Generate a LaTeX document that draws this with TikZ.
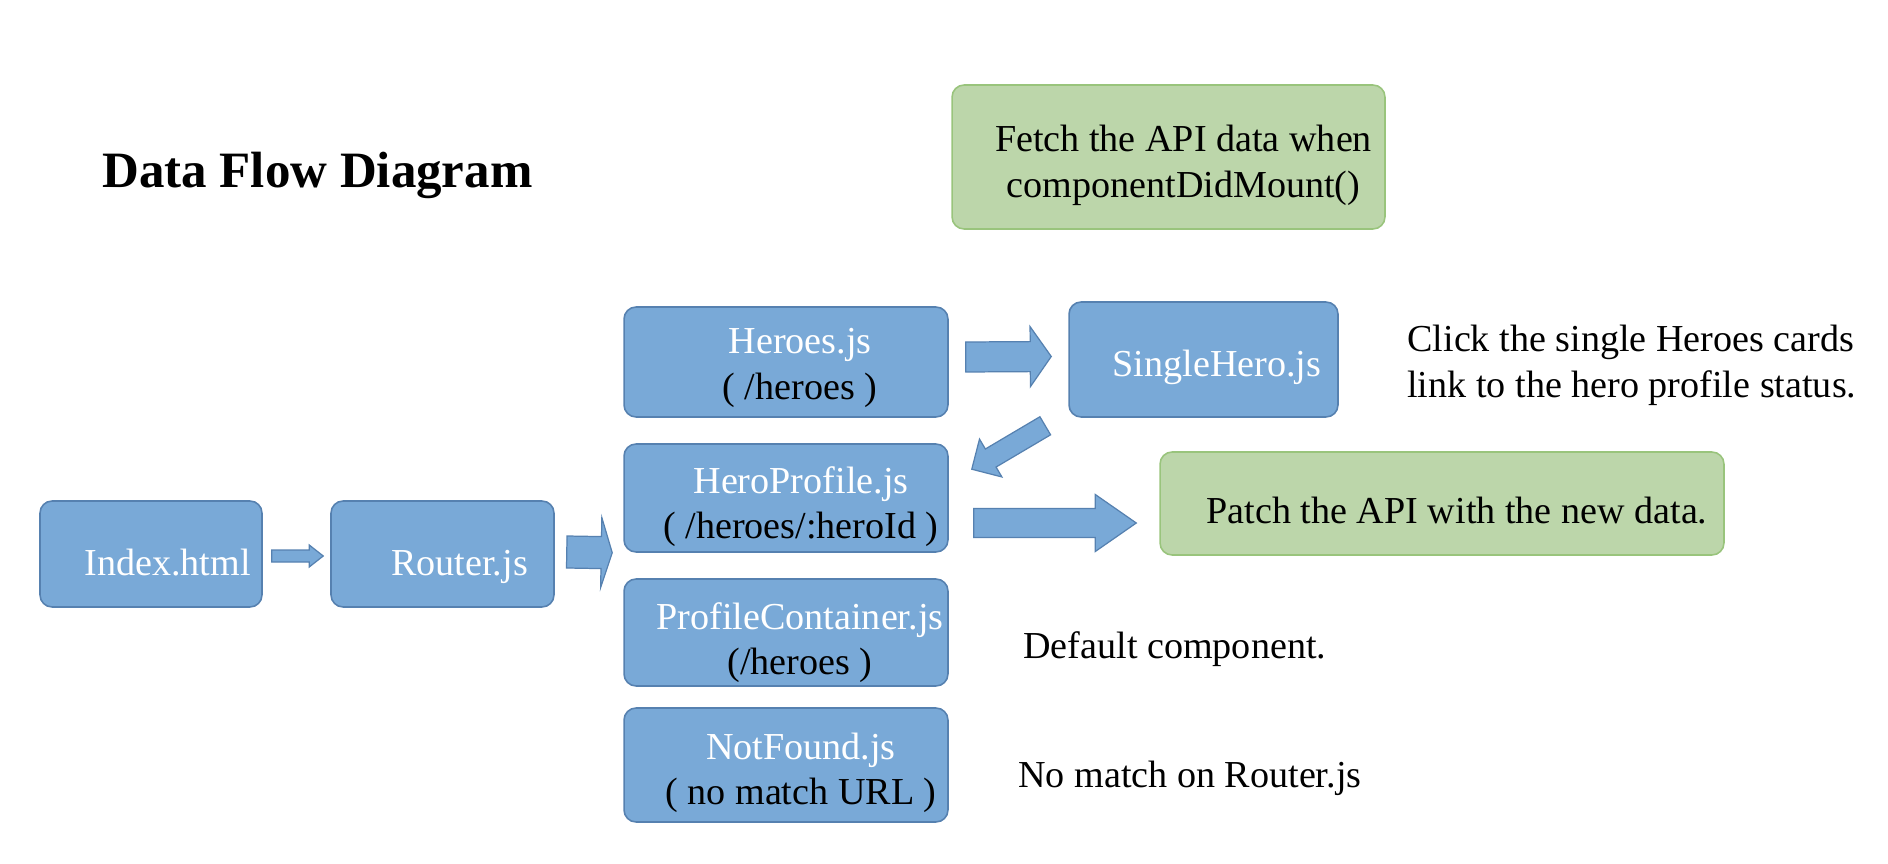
\documentclass[tikz,border=0pt]{standalone}
\usepackage{fontspec}
\setmainfont{Liberation Serif}
\usetikzlibrary{calc}

\definecolor{compblue}{RGB}{121,169,215}
\definecolor{compline}{RGB}{86,129,176}
\definecolor{notegreen}{RGB}{188,214,170}
\definecolor{noteline}{RGB}{153,196,124}

\tikzset{
  roundbox/.style={rounded corners=0.24cm, line width=0.9pt},
  comp/.style={roundbox, draw=compline, fill=compblue},
  note/.style={roundbox, draw=noteline, fill=notegreen},
  txt/.style={anchor=base, inner sep=0pt, font=\fontsize{21.7}{26.1}\selectfont},
  fatarr/.style={draw=compline, fill=compblue, line width=0.7pt, line join=miter},
}

% two centred lines, baseline on the first one
\newcommand{\stack}[2]{\begin{tabular}[t]{@{}c@{}}#1\\#2\end{tabular}}
% block arrow: from, to, shaft half width, head half width, head length
\newcommand{\fatarrow}[5]{%
  \path (#1) coordinate (fa-s) (#2) coordinate (fa-t);
  \path ($(fa-t)!#5!(fa-s)$) coordinate (fa-b);
  \draw[fatarr] ($(fa-s)!#3!90:(fa-t)$) -- ($(fa-b)!#3!90:(fa-t)$)
    -- ($(fa-b)!#4!90:(fa-t)$) -- (fa-t) -- ($(fa-b)!#4!-90:(fa-t)$)
    -- ($(fa-b)!#3!-90:(fa-t)$) -- ($(fa-s)!#3!-90:(fa-t)$) -- cycle;
}

\begin{document}
\begin{tikzpicture}[x=0.02cm, y=-0.02cm]
\useasboundingbox (0,0) rectangle (1888,864);

\node[anchor=base west, inner sep=0pt, font=\fontsize{29}{34}\selectfont\bfseries]
  (title) at (102,188) {Data Flow Diagram};

% boxes
\node[comp, minimum width=4.44cm, minimum height=2.12cm] (index) at (151,554) {};
\node[comp, minimum width=4.46cm, minimum height=2.12cm] (router) at (442.5,554) {};
\node[comp, minimum width=6.48cm, minimum height=2.2cm] (heroes) at (786,362) {};
\node[comp, minimum width=6.48cm, minimum height=2.16cm] (heroprofile) at (786,498) {};
\node[comp, minimum width=6.48cm, minimum height=2.14cm] (profilecontainer) at (786,632.5) {};
\node[comp, minimum width=6.48cm, minimum height=2.28cm] (notfound) at (786,765) {};
\node[comp, minimum width=5.38cm, minimum height=2.3cm] (singlehero) at (1203.5,359.5) {};
\node[note, minimum width=8.66cm, minimum height=2.88cm] (fetch) at (1168.5,157) {};
\node[note, minimum width=11.28cm, minimum height=2.06cm] (patch) at (1442,503.5) {};

% box texts
\node[txt, text=white] (indextxt) at (167.5,575) {Index.html};
\node[txt, text=white] (routertxt) at (459.5,575) {Router.js};
\node[txt] (heroestxt) at (800,354) {\stack{\color{white}Heroes.js}{( /heroes )}};
\node[txt] (heroprofiletxt) at (801,493) {\stack{\color{white}HeroProfile.js}{( /heroes/:heroId )}};
\node[txt] (profilecontainertxt) at (800,629) {\stack{\color{white}ProfileContainer.js}{(/heroes )}};
\node[txt] (notfoundtxt) at (801,759) {\stack{\color{white}NotFound.js}{( no match URL )}};
\node[txt, text=white] (singleherotxt) at (1217,377) {SingleHero.js};
\node[txt] (fetchtxt) at (1183.5,152) {\stack{Fetch the API data when}{componentDidMount()}};
\node[txt] (patchtxt) at (1457,523) {Patch the API with the new data.};

% side notes
\node[txt, anchor=base west] (clicktxt) at (1407,352)
  {\begin{tabular}[t]{@{}l@{}}Click the single Heroes cards\\link to the hero profile status.\end{tabular}};
\node[txt, anchor=base west] (defaulttxt) at (1023,658) {Default component.};
\node[txt, anchor=base west] (nomatchtxt) at (1018,787) {No match on Router.js};

% arrows
\coordinate (routes) at ($(heroprofile.south west)+(-11,0)$);
\fatarrow{$(index.east)+(9,2)$}{$(router.west)+(-7,2)$}{0.12cm}{0.22cm}{0.28cm}
\fatarrow{$(router.east)+(12,-2)$}{routes}{0.32cm}{0.7cm}{0.22cm}
\fatarrow{$(heroes.east)+(17,-5)$}{$(singlehero.west)+(-17,-3)$}{0.3cm}{0.6cm}{0.42cm}
\fatarrow{$(singlehero.south west)+(-23,8)$}{$(heroprofile.north east)+(23,26)$}{0.21cm}{0.44cm}{0.44cm}
\fatarrow{$(heroprofile.east)+(25,25)$}{$(patch.west)+(-23,19.5)$}{0.29cm}{0.57cm}{0.82cm}
\end{tikzpicture}
\end{document}
